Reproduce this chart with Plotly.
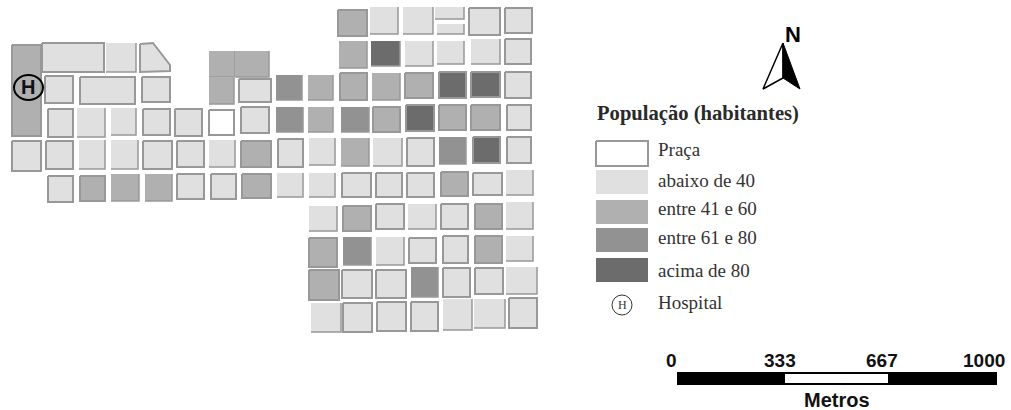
import plotly.graph_objects as go

# Classes de populacao (habitantes) por quadra
CORES = {"P": "#ffffff", "A": "#e0e0e0", "B": "#b0b0b0", "C": "#929292", "D": "#6c6c6c"}
LEGENDA_CLASSES = ["P", "A", "B", "C", "D"]
COR_BORDA = "#989898"

# quadras: (x0, x1, y0, y1, classe, contorno completo?), coordenadas do mapa
oeste_1 = [(12, 41, 45, 136, "B", 1), (42, 104, 43, 72, "A", 1), (106, 136, 43, 72, "A", 0)]
oeste_2 = [(45, 73, 76, 103, "A", 1), (80, 135, 77, 104, "A", 1), (142, 170, 77, 102, "A", 1)]
centro_1 = [(209, 235, 51, 77, "B", 0), (236, 269, 51, 77, "B", 0),
            (209, 234, 78, 104, "B", 0), (239, 271, 79, 102, "A", 1)]
linha_1 = [(338, 367, 10, 36, "B", 1), (370, 398, 7, 34, "A", 0), (403, 433, 7, 34, "A", 0),
           (435, 464, 7, 19, "A", 0), (437, 464, 24, 34, "A", 0), (469, 500, 8, 35, "A", 1),
           (505, 532, 8, 33, "A", 1)]
linha_2 = [(339, 367, 41, 68, "B", 0), (371, 400, 41, 66, "D", 0), (405, 433, 41, 66, "A", 0),
           (437, 464, 41, 64, "A", 0), (471, 500, 39, 64, "A", 0), (505, 531, 39, 64, "A", 1)]
linha_3 = [(276, 302, 75, 100, "C", 0), (308, 333, 75, 100, "B", 0), (340, 367, 73, 100, "B", 1),
           (372, 400, 73, 100, "B", 0), (405, 433, 73, 98, "B", 1), (439, 466, 72, 98, "D", 1),
           (471, 500, 72, 97, "D", 1), (505, 531, 72, 98, "A", 1)]
linha_4 = [(48, 73, 109, 137, "A", 1), (77, 105, 108, 137, "A", 0), (111, 136, 108, 135, "A", 0),
           (143, 170, 109, 135, "A", 1), (175, 202, 109, 136, "A", 1), (209, 234, 110, 135, "P", 1),
           (241, 269, 107, 133, "A", 1), (276, 303, 107, 132, "C", 0), (308, 333, 107, 132, "B", 0),
           (341, 369, 107, 132, "C", 0), (373, 400, 107, 132, "B", 1), (406, 434, 105, 131, "D", 1),
           (439, 466, 105, 130, "B", 1), (471, 500, 105, 130, "B", 1), (507, 531, 105, 130, "A", 1)]
linha_5 = [(12, 41, 141, 171, "A", 1), (46, 73, 141, 169, "A", 1), (79, 105, 140, 169, "A", 0),
           (111, 138, 140, 169, "A", 0), (143, 172, 141, 169, "A", 1), (177, 204, 141, 167, "A", 1),
           (209, 235, 140, 167, "A", 0), (241, 271, 141, 167, "B", 1), (278, 303, 139, 167, "A", 1),
           (309, 335, 138, 165, "A", 0), (341, 369, 138, 166, "B", 0), (373, 402, 138, 166, "A", 0),
           (407, 434, 138, 166, "A", 1), (439, 466, 137, 164, "C", 0), (473, 500, 137, 163, "D", 1),
           (507, 531, 137, 163, "A", 1)]
linha_6 = [(48, 73, 176, 202, "A", 1), (80, 105, 176, 201, "B", 1), (111, 139, 174, 201, "B", 0),
           (145, 172, 174, 201, "B", 0), (177, 204, 174, 199, "A", 1), (211, 236, 174, 199, "A", 1),
           (242, 271, 174, 198, "B", 1), (277, 303, 173, 197, "A", 0), (309, 335, 173, 197, "A", 0),
           (342, 371, 173, 197, "A", 1), (376, 402, 173, 197, "A", 1), (407, 434, 173, 197, "A", 1),
           (441, 468, 172, 196, "B", 1), (473, 502, 173, 195, "A", 1), (506, 533, 170, 195, "A", 0)]
linha_7 = [(309, 337, 206, 231, "A", 0), (343, 371, 206, 231, "B", 1), (376, 404, 204, 229, "A", 1),
           (408, 436, 204, 229, "A", 0), (441, 468, 204, 229, "A", 1), (475, 502, 204, 229, "B", 1),
           (506, 533, 202, 229, "A", 0)]
linha_8 = [(309, 337, 238, 267, "B", 1), (343, 371, 237, 265, "C", 0), (376, 404, 237, 265, "A", 0),
           (409, 436, 238, 263, "A", 1), (443, 468, 236, 263, "A", 1), (475, 502, 236, 263, "B", 1),
           (506, 533, 236, 261, "A", 0)]
linha_9 = [(309, 339, 270, 300, "B", 1), (342, 372, 270, 298, "A", 1), (376, 406, 270, 298, "A", 1),
           (411, 438, 267, 297, "C", 0), (443, 470, 268, 297, "A", 1), (475, 503, 268, 294, "A", 1),
           (506, 537, 267, 294, "A", 0)]
linha_10 = [(311, 341, 303, 332, "A", 0), (343, 372, 303, 332, "A", 1), (377, 406, 302, 331, "A", 1),
            (411, 438, 302, 331, "A", 1), (443, 472, 299, 330, "A", 0), (474, 505, 299, 328, "A", 0),
            (509, 537, 298, 328, "A", 1)]

# quadra chanfrada do canto noroeste
chanfrada_x = [140, 153, 170, 170, 140, 140]
chanfrada_y = [44, 43, 65, 71, 72, 44]

# seta do norte
seta_esq_x = [783, 763, 783, 783]
seta_esq_y = [43, 89, 78, 43]
seta_dir_x = [783, 800, 783, 783]
seta_dir_y = [43, 89, 78, 43]

# escala grafica
escala_rotulos = ["0", "333", "667", "1000"]
escala_x = [671, 780, 882, 984]

legenda_rotulos = ["Praça", "abaixo de 40", "entre 41 e 60", "entre 61 e 80", "acima de 80"]
legenda_y0 = [141, 170, 200, 228, 258]
legenda_y1 = [166, 194, 224, 252, 282]
legenda_txt_y = [149, 180, 208, 237, 270]

quadras = (oeste_1 + oeste_2 + centro_1 + linha_1 + linha_2 + linha_3 + linha_4
           + linha_5 + linha_6 + linha_7 + linha_8 + linha_9 + linha_10)


def poly(x, y, fill, line_color=None, line_width=0):
    return go.Scatter(x=x, y=y, mode="lines", fill="toself", fillcolor=fill,
                      line=dict(color=line_color or fill, width=line_width),
                      hoverinfo="skip", showlegend=False)


def rect_xy(x0, x1, y0, y1):
    return [x0, x1, x1, x0, x0], [y0, y0, y1, y1, y0]


fig = go.Figure()

for x0, x1, y0, y1, classe, contorno in quadras:
    xs, ys = rect_xy(x0, x1, y0, y1)
    if contorno:
        fig.add_trace(poly(xs, ys, CORES[classe], COR_BORDA, 2))
    else:
        fig.add_trace(poly(xs, ys, CORES[classe]))
        # so a sombra em baixo e a direita
        fig.add_trace(go.Scatter(x=[x1, x1, x0], y=[y0, y1, y1], mode="lines",
                                 line=dict(color=COR_BORDA, width=1.5),
                                 hoverinfo="skip", showlegend=False))

fig.add_trace(poly(chanfrada_x, chanfrada_y, CORES["A"], COR_BORDA, 2))

# Hospital no mapa
fig.add_shape(type="circle", x0=14, x1=43, y0=75, y1=100, line=dict(color="black", width=2))

# Legenda
for cod, y0, y1 in zip(LEGENDA_CLASSES, legenda_y0, legenda_y1):
    xs, ys = rect_xy(596, 648, y0, y1)
    if cod == "P":
        fig.add_trace(poly(xs, ys, CORES[cod], COR_BORDA, 2))
    else:
        fig.add_trace(poly(xs, ys, CORES[cod]))

fig.add_shape(type="circle", x0=612, x1=632, y0=295, y1=315, line=dict(color="#333333", width=1))

# Norte
fig.add_trace(poly(seta_esq_x, seta_esq_y, "white", "black", 1.5))
fig.add_trace(poly(seta_dir_x, seta_dir_y, "black", "black", 1))

# Escala
xs, ys = rect_xy(677, 997, 372, 385)
fig.add_trace(poly(xs, ys, "black"))
xs, ys = rect_xy(785, 888, 374, 383)
fig.add_trace(poly(xs, ys, "white"))

SERIF = "Liberation Serif"
SANS = "Liberation Sans"
annotations = [
    dict(x=28, y=87, text="<b>H</b>", font=dict(family=SANS, size=20, color="#111111")),
    dict(x=793, y=34, text="<b>N</b>", font=dict(family=SANS, size=22, color="black")),
    dict(x=597, y=113, xanchor="left", text="<b>População (habitantes)</b>",
         font=dict(family=SERIF, size=20.6, color="#2a2a2a")),
    dict(x=622, y=305, text="H", font=dict(family=SERIF, size=12, color="#333333")),
    dict(x=658, y=302, xanchor="left", text="Hospital", font=dict(family=SERIF, size=19, color="#333333")),
    dict(x=837, y=400, text="<b>Metros</b>", font=dict(family=SANS, size=20, color="#111111")),
]
for rot, y in zip(legenda_rotulos, legenda_txt_y):
    annotations.append(dict(x=658, y=y, xanchor="left", text=rot,
                            font=dict(family=SERIF, size=19, color="#333333")))
for rot, x in zip(escala_rotulos, escala_x):
    annotations.append(dict(x=x, y=360, text=f"<b>{rot}</b>",
                            font=dict(family=SANS, size=19, color="#111111")))
for a in annotations:
    a.update(xref="x", yref="y", showarrow=False, borderpad=0, borderwidth=0)

fig.update_layout(
    width=1011, height=410, autosize=False,
    margin=dict(l=0, r=0, t=0, b=0),
    paper_bgcolor="white", plot_bgcolor="white",
    showlegend=False, annotations=annotations,
    xaxis=dict(range=[0, 1011], visible=False, fixedrange=True),
    yaxis=dict(range=[410, 0], visible=False, fixedrange=True),
)

fig.write_html("out.html", post_script="document.body.style.margin='0';", config=dict(displayModeBar=False))
